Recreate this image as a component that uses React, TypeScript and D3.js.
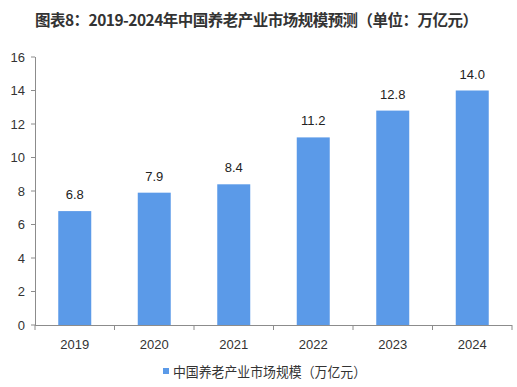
import React from "react";
import * as d3 from "d3";

const categories = ["2019", "2020", "2021", "2022", "2023", "2024"];
const values = [6.8, 7.9, 8.4, 11.2, 12.8, 14.0];
const yTicks = [0, 2, 4, 6, 8, 10, 12, 14, 16];
const title = "图表8：2019-2024年中国养老产业市场规模预测（单位：万亿元）";
const legendLabel = "中国养老产业市场规模（万亿元）";

const W = 517, H = 387;
const left = 35, right = 512, top = 57, bottom = 325;
const FONT = "'Liberation Sans', Arial, 'Noto Sans CJK SC', sans-serif";
const CJK = "'Noto Sans CJK SC', 'Liberation Sans', sans-serif";

export default function App() {
  const x = d3.scaleBand<string>().domain(categories).range([left, right]).paddingInner(0.585).paddingOuter(0.2925);
  const xb = d3.scaleBand<string>().domain(categories).range([left, right]);
  const y = d3.scaleLinear().domain([0, 16]).range([bottom, top]);
  const bars = "#5b9ae8";
  const axis = "#8c8c8c";
  return (
    <svg width={W} height={H} style={{ position: "absolute", left: 0, top: 0, background: "#fff" }}>
      <text x={35} y={26} fontFamily={CJK} fontWeight="bold" fontSize={15.5} fill="#333" textLength={443} lengthAdjust="spacing">{title}</text>
      {yTicks.map(t => (
        <g key={t}>
          <line x1={left - 4} x2={left} y1={y(t)} y2={y(t)} stroke={axis} />
          <text x={left - 10} y={y(t)} dy="0.35em" textAnchor="end" fontFamily={FONT} fontSize={13} fill="#333">{t}</text>
        </g>
      ))}
      <line x1={left + 0.5} x2={left + 0.5} y1={top} y2={bottom} stroke={axis} />
      {categories.map((c, i) => (
        <g key={c}>
          <rect x={x(c)} y={y(values[i])} width={x.bandwidth()} height={bottom - y(values[i])} fill={bars} />
          <text x={x(c)! + x.bandwidth() / 2} y={y(values[i]) - 12} textAnchor="middle" fontFamily={FONT} fontSize={13} fill="#222">{values[i].toFixed(1)}</text>
          <text x={xb(c)! + xb.bandwidth() / 2} y={349} textAnchor="middle" fontFamily={FONT} fontSize={13} fill="#333">{c}</text>
        </g>
      ))}
      {[...categories.map(c => xb(c)!), right].map((t, i) => (
        <line key={i} x1={t} x2={t} y1={bottom} y2={bottom + 5} stroke={axis} />
      ))}
      <line x1={left} x2={right} y1={bottom + 0.5} y2={bottom + 0.5} stroke={axis} />
      <rect x={163} y={368} width={6} height={6} fill={bars} />
      <text x={173} y={377} fontFamily={CJK} fontSize={14} fill="#333" textLength={193} lengthAdjust="spacingAndGlyphs">{legendLabel}</text>
    </svg>
  );
}
